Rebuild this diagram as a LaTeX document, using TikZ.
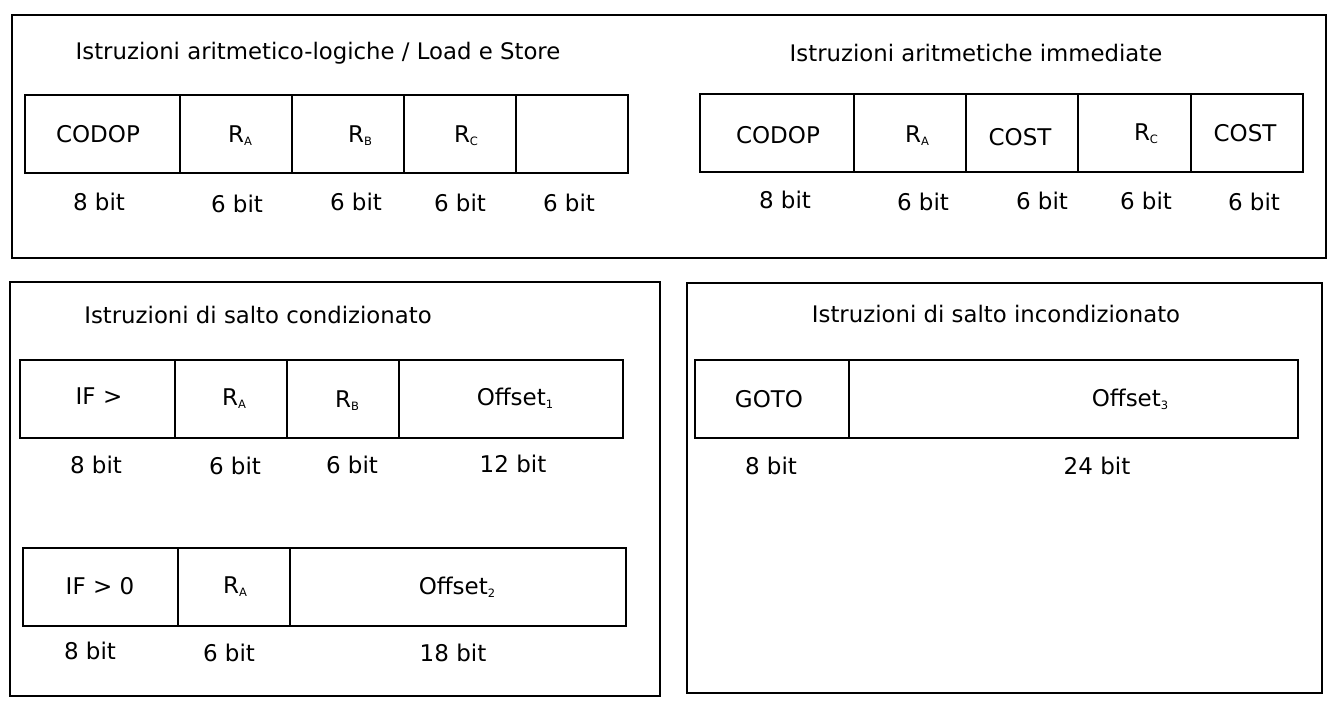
\documentclass[tikz,border=0pt]{standalone}
\usepackage{fontspec}
\setmainfont{DejaVu Sans}
\newcommand{\sbs}[1]{\raisebox{-3pt}{\fontsize{11.5}{11.5}\selectfont #1}}
\begin{document}
\begin{tikzpicture}[x=1pt,y=-1pt,
  frame/.style={draw=black,line width=1.2pt},
  cell/.style={draw=black,line width=1.2pt,inner sep=0pt,outer sep=0pt},
  txt/.style={inner sep=0pt,font=\fontsize{23}{26}\selectfont},
  ttl/.style={inner sep=0pt,font=\fontsize{22.8}{26}\selectfont}]
\useasboundingbox (0,0) rectangle (1335,713);
\fill[white] (0,0) rectangle (1335,713);
% frames
\draw[frame] (12,15) rectangle (1326,258);
\draw[frame] (10,282) rectangle (660,696);
\draw[frame] (687,283) rectangle (1322,693);
% titles
\node[ttl] (t1) at (318,53) {Istruzioni aritmetico-logiche / Load e Store};
\node[ttl] (t2) at (976,53) {Istruzioni aritmetiche immediate};
\node[ttl] (t3) at (258,315) {Istruzioni di salto condizionato};
\node[ttl] (t4) at (996,314) {Istruzioni di salto incondizionato};
% row 1
\node[cell,minimum width=155,minimum height=78] (a1) at (102.5,134) {};
\node[cell,minimum width=112,minimum height=78] (a2) at (236,134) {};
\node[cell,minimum width=112,minimum height=78] (a3) at (348,134) {};
\node[cell,minimum width=112,minimum height=78] (a4) at (460,134) {};
\node[cell,minimum width=112,minimum height=78] (a5) at (572,134) {};
\node[txt] (a1t) at (98,134) {CODOP};
\node[txt] (a2t) at (240,136) {R\sbs{A}};
\node[txt] (a3t) at (360,136) {R\sbs{B}};
\node[txt] (a4t) at (466,136) {R\sbs{C}};
\node[txt] (a1b) at (99,202) {8 bit};
\node[txt] (a2b) at (237,204) {6 bit};
\node[txt] (a3b) at (356,202) {6 bit};
\node[txt] (a4b) at (460,203) {6 bit};
\node[txt] (a5b) at (569,203) {6 bit};
% row 2
\node[cell,minimum width=154,minimum height=78] (b1) at (777,133) {};
\node[cell,minimum width=112,minimum height=78] (b2) at (910,133) {};
\node[cell,minimum width=112,minimum height=78] (b3) at (1022,133) {};
\node[cell,minimum width=113,minimum height=78] (b4) at (1134.5,133) {};
\node[cell,minimum width=112,minimum height=78] (b5) at (1247,133) {};
\node[txt] (b1t) at (778,135) {CODOP};
\node[txt] (b2t) at (917,136) {R\sbs{A}};
\node[txt] (b3t) at (1020,137) {COST};
\node[txt] (b4t) at (1146,134) {R\sbs{C}};
\node[txt] (b5t) at (1245,133) {COST};
\node[txt] (b1b) at (785,200) {8 bit};
\node[txt] (b2b) at (923,202) {6 bit};
\node[txt] (b3b) at (1042,201) {6 bit};
\node[txt] (b4b) at (1146,201) {6 bit};
\node[txt] (b5b) at (1254,202) {6 bit};
% row 3
\node[cell,minimum width=155,minimum height=78] (c1) at (97.5,399) {};
\node[cell,minimum width=112,minimum height=78] (c2) at (231,399) {};
\node[cell,minimum width=112,minimum height=78] (c3) at (343,399) {};
\node[cell,minimum width=224,minimum height=78] (c4) at (511,399) {};
\node[txt] (c1t) at (99,396) {IF >};
\node[txt] (c2t) at (234,399) {R\sbs{A}};
\node[txt] (c3t) at (347,401) {R\sbs{B}};
\node[txt] (c4t) at (515,398) {Offset\sbs{1}};
\node[txt] (c1b) at (96,465) {8 bit};
\node[txt] (c2b) at (235,466) {6 bit};
\node[txt] (c3b) at (352,465) {6 bit};
\node[txt] (c4b) at (513,464) {12 bit};
% row 4
\node[cell,minimum width=155,minimum height=78] (d1) at (100.5,587) {};
\node[cell,minimum width=112,minimum height=78] (d2) at (234,587) {};
\node[cell,minimum width=336,minimum height=78] (d3) at (458,587) {};
\node[txt] (d1t) at (100,586) {IF > 0};
\node[txt] (d2t) at (235,587) {R\sbs{A}};
\node[txt] (d3t) at (457,587) {Offset\sbs{2}};
\node[txt] (d1b) at (90,651) {8 bit};
\node[txt] (d2b) at (229,653) {6 bit};
\node[txt] (d3b) at (453,653) {18 bit};
% row 5
\node[cell,minimum width=154,minimum height=78] (e1) at (772,399) {};
\node[cell,minimum width=449,minimum height=78] (e2) at (1073.5,399) {};
\node[txt] (e1t) at (769,399) {GOTO};
\node[txt] (e2t) at (1130,399) {Offset\sbs{3}};
\node[txt] (e1b) at (771,466) {8 bit};
\node[txt] (e2b) at (1097,466) {24 bit};
\end{tikzpicture}
\end{document}
